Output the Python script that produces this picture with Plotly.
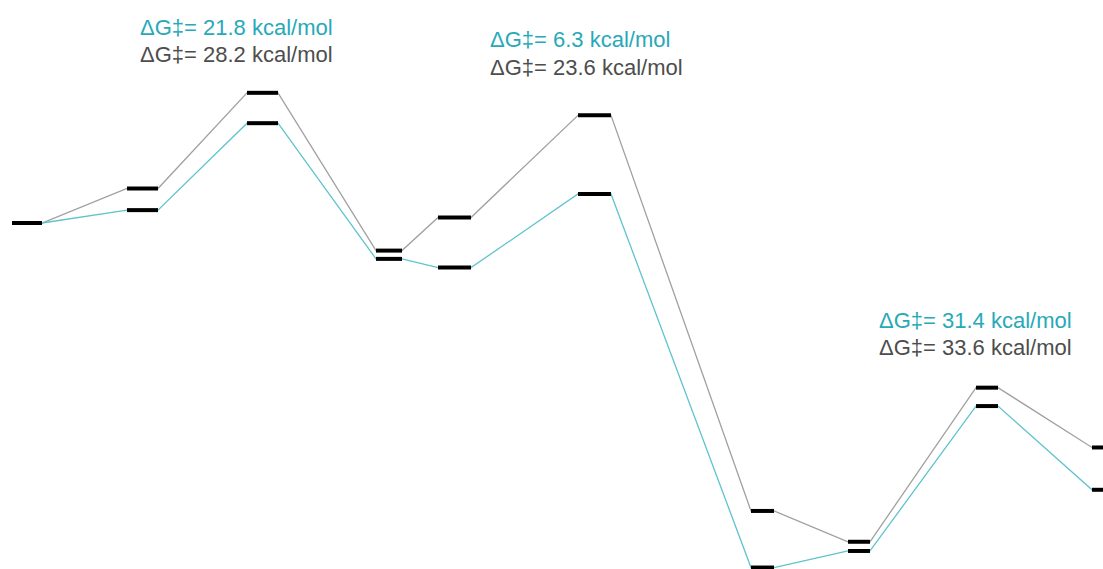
import plotly.graph_objects as go

# Reaction coordinate: start / end of each state level (arbitrary units)
state_start = [12, 127, 247, 376, 438, 578, 751, 848, 976, 1092]
state_end = [42, 158, 278, 402, 471, 611, 774, 870, 998, 1118]

# Relative free energies (kcal/mol)
energy_gray = [0.0, 7.5, 28.3, -6.0, 1.2, 23.4, -62.6, -69.3, -35.8, -48.8]
energy_cyan = [0.0, 2.8, 21.7, -7.8, -9.7, 6.3, -74.9, -71.3, -39.8, -58.0]

# Barrier labels
label_x = [138, 488, 877]
label_cyan = ["ΔG‡= 21.8 kcal/mol", "ΔG‡= 6.3 kcal/mol", "ΔG‡= 31.4 kcal/mol"]
label_gray = ["ΔG‡= 28.2 kcal/mol", "ΔG‡= 23.6 kcal/mol", "ΔG‡= 33.6 kcal/mol"]
label_y_cyan = [42.6, 39.8, -21.1]
label_y_gray = [36.6, 33.8, -27.0]

GRAY_LINE = "#a0a0a0"
CYAN_LINE = "#5ec4cc"
CYAN_TEXT = "#27a9b9"
GRAY_TEXT = "#4d4d4d"
FONT = "Arial, 'Liberation Sans', sans-serif"

fig = go.Figure()


def path(energies):
    xs, ys = [], []
    for s, e, v in zip(state_start, state_end, energies):
        xs += [s, e]
        ys += [v, v]
    return xs, ys


def bars(energies):
    xs, ys = [], []
    for s, e, v in zip(state_start, state_end, energies):
        xs += [s, e, None]
        ys += [v, v, None]
    return xs, ys


for en, col in [(energy_gray, GRAY_LINE), (energy_cyan, CYAN_LINE)]:
    x, y = path(en)
    fig.add_trace(go.Scatter(x=x, y=y, mode="lines",
                             line=dict(color=col, width=1.3),
                             hoverinfo="skip", showlegend=False))

for en in [energy_gray, energy_cyan]:
    x, y = bars(en)
    fig.add_trace(go.Scatter(x=x, y=y, mode="lines",
                             line=dict(color="black", width=4),
                             hoverinfo="skip", showlegend=False))

for lx, tc, tg, yc, yg in zip(label_x, label_cyan, label_gray, label_y_cyan, label_y_gray):
    fig.add_annotation(x=lx, y=yc, text=tc, showarrow=False, xanchor="left",
                       yanchor="middle", font=dict(family=FONT, size=22, color=CYAN_TEXT))
    fig.add_annotation(x=lx, y=yg, text=tg, showarrow=False, xanchor="left",
                       yanchor="middle", font=dict(family=FONT, size=22, color=GRAY_TEXT))

fig.update_layout(
    width=1103, height=569,
    margin=dict(l=0, r=0, t=0, b=0),
    paper_bgcolor="white", plot_bgcolor="white",
    showlegend=False,
    xaxis=dict(range=[0, 1103], visible=False, fixedrange=True),
    yaxis=dict(range=[-75.22, 48.48], visible=False, fixedrange=True),
)

fig.write_html("out.html")
